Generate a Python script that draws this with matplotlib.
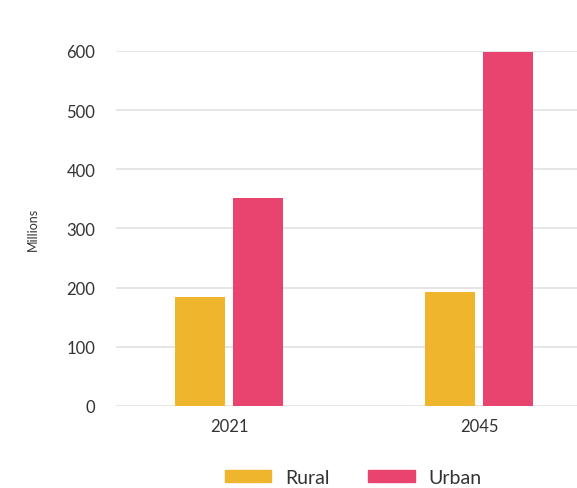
import numpy as np
import matplotlib.pyplot as plt
import matplotlib.patches as mpatches

plt.rcParams['font.family'] = ['Lato', 'DejaVu Sans']

years = ['2021', '2045']
rural = [184, 192]
urban = [352, 599]
yticks = [0, 100, 200, 300, 400, 500, 600]

rural_col = '#EFB52D'
urban_col = '#E9436F'
text_col = '#333333'

fig = plt.figure(figsize=(5.77, 4.89), dpi=100)
ax = fig.add_axes([0.201, 0.1677, 0.799, 0.726])

x = np.arange(len(years))
w = 0.2
off = 0.116
ax.bar(x - off, rural, w, color=rural_col, zorder=3)
ax.bar(x + off, urban, w, color=urban_col, zorder=3)

ax.set_xlim(-0.452, 1.392)
ax.set_ylim(0, 600)
ax.set_yticks(yticks)
ax.set_yticklabels([str(v) for v in yticks])
ax.set_xticks(x)
ax.set_xticklabels(years)
ax.yaxis.grid(True, color='#e2e2e2', linewidth=1.2, zorder=0)
ax.set_axisbelow(True)
for s in ax.spines.values():
    s.set_visible(False)
ax.tick_params(axis='both', length=0, labelsize=12, colors=text_col)
ax.tick_params(axis='y', pad=15)
ax.tick_params(axis='x', pad=9)
ax.set_ylabel('Millions', fontsize=9, color=text_col, labelpad=20)

rural_patch = mpatches.Patch(color=rural_col, label='Rural')
urban_patch = mpatches.Patch(color=urban_col, label='Urban')
leg = fig.legend(handles=[rural_patch, urban_patch], loc='lower center',
                 bbox_to_anchor=(0.612, -0.032), ncol=2, frameon=False,
                 fontsize=14, handlelength=2.4, handleheight=0.55,
                 columnspacing=2.0, handletextpad=0.7)
for t in leg.get_texts():
    t.set_color(text_col)

plt.savefig('out.png', dpi=100)
